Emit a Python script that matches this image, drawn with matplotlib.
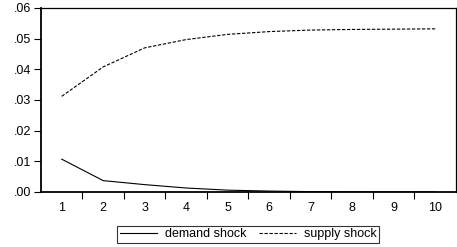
import matplotlib.pyplot as plt
import numpy as np
from matplotlib.ticker import FuncFormatter, FixedLocator

plt.rcParams['font.family'] = ['Liberation Sans', 'DejaVu Sans']

periods = [1, 2, 3, 4, 5, 6, 7, 8, 9, 10]
demand_shock = [0.0107, 0.0037, 0.0024, 0.0013, 0.0006, 0.0003, 0.00012, 0.00006, 0.00003, 0.00001]
supply_shock = [0.0312, 0.0408, 0.0470, 0.0497, 0.0514, 0.0523, 0.0528, 0.0530, 0.0531, 0.0532]

fig = plt.figure(figsize=(4.57, 2.47), dpi=100)
ax = fig.add_axes([0.0897, 0.2227, 0.908, 0.745])

ax.plot(periods, demand_shock, color='black', lw=0.8, label='demand shock')
ax.plot(periods, supply_shock, color='black', lw=0.8, ls=(0, (3, 1.5)), label='supply shock')

ax.set_xlim(0.5, 10.5)
ax.set_ylim(0, 0.06)
ax.set_yticks(np.arange(0, 0.061, 0.01))
ax.yaxis.set_major_formatter(FuncFormatter(lambda v, p: ('%.2f' % v)[1:]))

# ticks between categories, labels centred on them
ax.xaxis.set_major_locator(FixedLocator(np.arange(1.5, 10.5, 1)))
ax.xaxis.set_major_formatter(FuncFormatter(lambda v, p: ''))
ax.set_xticks(periods, [str(p) for p in periods], minor=True)
ax.tick_params(axis='x', which='minor', length=0, labelsize=9, pad=7)
ax.tick_params(axis='x', which='major', length=5, width=0.8, direction='out')
ax.tick_params(axis='y', length=5, width=0.8, direction='out', labelsize=9, pad=2)

for s in ax.spines.values():
    s.set_linewidth(0.9)
ax.spines['left'].set_linewidth(1.3)
ax.spines['bottom'].set_linewidth(1.3)

leg = fig.legend(loc='center', bbox_to_anchor=(0.543, 0.051), ncol=2, fontsize=9,
                 frameon=True, fancybox=False, edgecolor='black', handlelength=3.0,
                 columnspacing=1.0, handletextpad=0.6, borderpad=0.2, borderaxespad=0)
leg.get_frame().set_linewidth(0.8)

fig.savefig('out.png', dpi=100)
